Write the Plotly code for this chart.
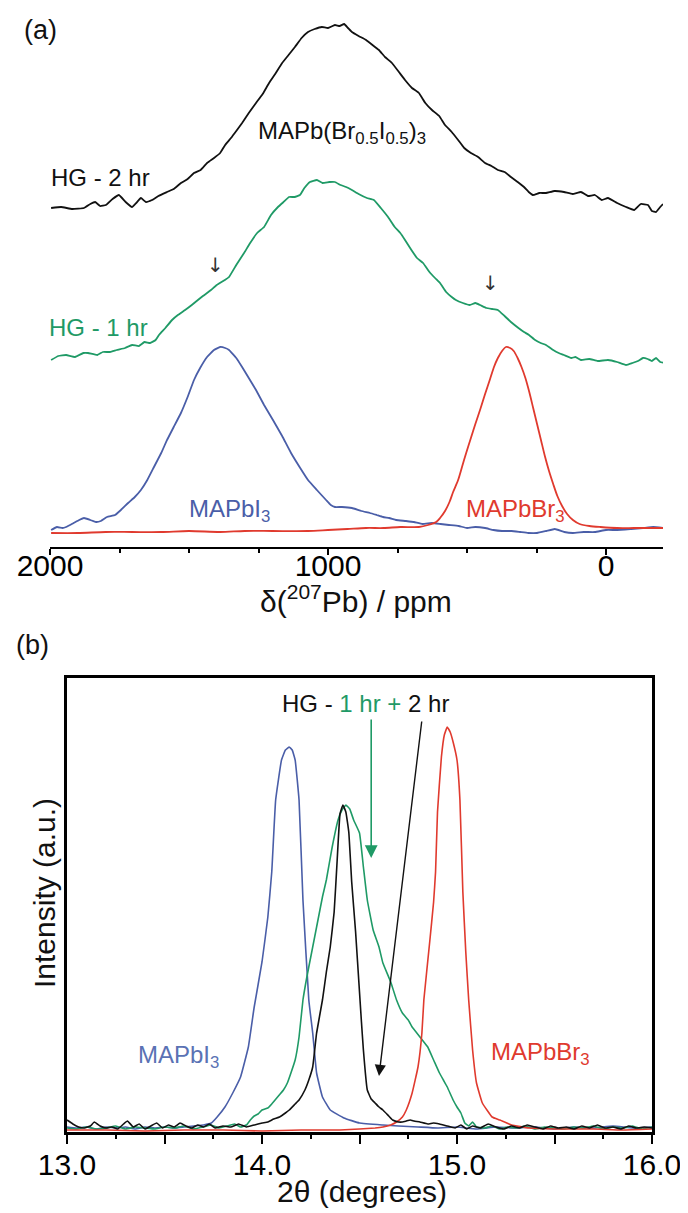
import plotly.graph_objects as go

# ---------------- Panel (a): 207Pb NMR spectra (ppm, intensity above own baseline) ----------------
NMR_HG_2HR = [(1996,0),(1960,1),(1920,-1),(1878,0),(1855,4),(1838,6),(1820,2),(1799,3),(1775,9),(1752,13),(1728,6),(1705,1),(1690,5),(1673,10),(1655,6),(1633,8),(1610,12),(1579,16),(1555,19),(1529,25),(1505,29),(1482,35),(1458,38),(1435,45),(1410,50),(1388,55),(1370,63),(1349,70),(1330,77),(1309,85),(1285,95),(1259,105),(1235,114),(1212,125),(1190,134),(1165,145),(1142,153),(1119,161),(1095,170),(1072,176),(1048,179),(1022,181),(1000,180),(975,183),(958,182),(942,184),(928,180),(914,176),(890,172),(863,168),(840,163),(817,158),(795,151),(770,145),(745,136),(723,128),(698,120),(673,115),(650,105),(626,98),(600,92),(579,83),(555,76),(532,68),(510,60),(486,55),(460,51),(435,45),(412,42),(389,38),(365,36),(342,31),(318,26),(295,21),(278,16),(263,13),(240,15),(216,15),(185,17),(151,16),(120,14),(90,16),(65,12),(40,13),(15,8),(-7,10),(-40,5),(-72,1),(-101,-2),(-125,4),(-151,3),(-165,-3),(-180,-4),(-195,1),(-205,4)]

NMR_HG_1HR = [(1996,0),(1970,4),(1942,5),(1910,3),(1880,7),(1863,7),(1830,5),(1810,8),(1784,8),(1760,10),(1730,12),(1705,15),(1680,14),(1660,18),(1640,17),(1620,20),(1608,25),(1585,32),(1561,40),(1540,45),(1514,50),(1490,55),(1468,60),(1450,64),(1435,67),(1421,70),(1400,75),(1371,80),(1356,83),(1330,95),(1302,107),(1280,117),(1255,127),(1230,133),(1205,145),(1180,153),(1160,158),(1140,163),(1120,163),(1101,165),(1085,172),(1065,178),(1040,180),(1020,177),(995,178),(975,178),(955,175),(935,173),(914,170),(890,166),(860,162),(835,160),(810,152),(784,143),(760,133),(740,127),(723,120),(700,110),(680,102),(658,97),(635,88),(615,82),(597,77),(575,68),(555,63),(540,60),(515,57),(490,55),(470,57),(453,55),(430,52),(410,51),(389,50),(365,44),(342,38),(315,32),(295,28),(277,25),(255,20),(235,17),(216,15),(190,10),(170,7),(151,5),(125,2),(110,3),(90,0),(60,1),(30,-1),(-7,0),(-40,-2),(-72,-5),(-95,-3),(-115,-1),(-133,2),(-150,1),(-165,-1),(-180,2),(-195,-2),(-212,-3)]

NMR_MAPBI3 = [(1996,0),(1975,3),(1955,2),(1942,3),(1915,7),(1895,10),(1878,12),(1855,10),(1835,8),(1817,9),(1795,13),(1766,15),(1745,20),(1719,27),(1695,33),(1673,40),(1650,50),(1626,63),(1600,77),(1579,90),(1555,103),(1529,117),(1505,133),(1482,150),(1460,162),(1435,173),(1410,180),(1388,183),(1370,182),(1356,180),(1330,172),(1309,163),(1285,152),(1259,140),(1230,125),(1198,110),(1165,94),(1133,77),(1100,62),(1072,50),(1040,40),(1007,30),(990,25),(975,23),(950,23),(914,22),(880,19),(849,17),(825,15),(802,13),(780,12),(755,10),(720,9),(691,8),(660,6),(626,7),(595,6),(565,5),(530,4),(500,2),(470,3),(435,2),(405,0),(374,-1),(340,-1),(309,-2),(280,-3),(248,-3),(215,-1),(184,1),(150,-2),(119,-3),(80,-2),(40,-2),(0,0),(-40,0),(-90,1),(-133,2),(-170,3),(-212,2)]

NMR_MAPBBR3 = [(1996,-3),(1900,-3),(1800,-2),(1705,-2),(1600,-2),(1500,-1),(1388,-2),(1300,-1),(1200,-1),(1072,-1),(1000,0),(930,1),(863,2),(800,2),(740,3),(673,3),(640,5),(611,8),(597,12),(579,19),(563,28),(550,38),(532,50),(518,63),(503,77),(486,92),(470,106),(452,121),(435,136),(417,151),(403,163),(389,172),(374,179),(360,183),(345,182),(332,179),(318,172),(304,163),(290,152),(276,138),(262,122),(248,106),(234,90),(220,74),(205,59),(190,46),(175,34),(158,24),(140,16),(119,10),(95,6),(60,4),(20,3),(-40,2),(-100,2),(-160,2),(-212,2)]

NMR_OFFSETS = {"HG - 2 hr": 339, "HG - 1 hr": 187, "MAPbI3": 17, "MAPbBr3": 17}
NMR_TICKS = [2000, 1000, 0]
NMR_TICKTEXT = ["2000", "1000", "0"]

# ---------------- Panel (b): XRD (2theta, intensity) ----------------
XRD_MAPBI3 = [(13.00,5),(13.05,4),(13.10,5),(13.15,3),(13.20,5),(13.25,4),(13.30,5),(13.35,3),(13.40,5),(13.45,4),(13.50,5),(13.55,4),(13.60,5),(13.65,6),(13.70,7),(13.74,9),(13.77,15),(13.81,25),(13.85,39),(13.89,55),(13.93,85),(13.96,125),(14.00,170),(14.03,215),(14.05,260),(14.07,332),(14.10,372),(14.12,382),(14.14,385),(14.155,382),(14.17,372),(14.19,332),(14.21,232),(14.24,132),(14.26,99),(14.28,59),(14.31,35),(14.35,22),(14.42,14),(14.50,9),(14.62,7),(14.70,6),(14.80,5),(14.90,4),(15.00,5),(15.10,3),(15.20,5),(15.30,4),(15.40,5),(15.50,3),(15.60,5),(15.70,4),(15.80,6),(15.90,4),(16.00,5)]

XRD_HG_1HR = [(13.00,4),(13.05,3),(13.10,5),(13.15,3),(13.20,4),(13.25,6),(13.30,3),(13.35,5),(13.40,4),(13.45,3),(13.50,5),(13.55,4),(13.60,6),(13.65,3),(13.70,5),(13.74,7),(13.78,4),(13.82,6),(13.86,8),(13.89,5),(13.92,7),(13.94,12),(13.96,16),(13.98,18),(14.00,22),(14.03,24),(14.05,28),(14.08,35),(14.11,42),(14.13,49),(14.15,60),(14.17,72),(14.19,95),(14.21,132),(14.23,155),(14.25,175),(14.27,195),(14.29,215),(14.31,235),(14.33,252),(14.36,285),(14.39,312),(14.41,322),(14.43,327),(14.45,323),(14.47,312),(14.50,299),(14.52,265),(14.54,232),(14.57,202),(14.60,185),(14.62,169),(14.66,150),(14.69,132),(14.72,119),(14.75,112),(14.77,105),(14.79,100),(14.81,95),(14.83,90),(14.85,85),(14.88,72),(14.91,59),(14.93,52),(14.95,45),(14.98,32),(15.00,25),(15.02,19),(15.04,9),(15.06,6),(15.08,10),(15.10,5),(15.14,4),(15.18,6),(15.22,3),(15.26,5),(15.30,4),(15.35,6),(15.40,3),(15.45,5),(15.50,4),(15.55,3),(15.60,5),(15.65,4),(15.70,6),(15.75,3),(15.80,5),(15.85,4),(15.90,6),(15.95,3),(16.00,5)]

XRD_MAPBBR3 = [(13.00,2),(13.20,2),(13.40,1),(13.60,2),(13.80,2),(14.00,1),(14.20,2),(14.40,2),(14.50,3),(14.58,4),(14.62,5),(14.66,7),(14.69,10),(14.72,15),(14.74,22),(14.77,39),(14.80,65),(14.82,99),(14.83,132),(14.86,190),(14.88,230),(14.89,260),(14.90,320),(14.92,375),(14.935,397),(14.95,405),(14.965,400),(14.98,390),(15.00,372),(15.015,332),(15.03,240),(15.045,180),(15.06,132),(15.08,82),(15.10,49),(15.13,29),(15.18,15),(15.22,12),(15.28,7),(15.37,4),(15.50,3),(15.70,3),(15.85,2),(16.00,3)]

XRD_HG_2HR = [(13.00,12),(13.03,8),(13.06,5),(13.09,4),(13.12,6),(13.14,10),(13.17,6),(13.20,4),(13.23,5),(13.26,3),(13.29,8),(13.31,11),(13.34,5),(13.37,8),(13.40,3),(13.43,6),(13.46,9),(13.49,4),(13.52,7),(13.55,5),(13.58,9),(13.61,6),(13.64,4),(13.67,7),(13.70,5),(13.73,8),(13.76,4),(13.80,6),(13.84,5),(13.88,8),(13.92,5),(13.96,7),(14.00,9),(14.03,10),(14.06,13),(14.09,15),(14.12,19),(14.14,22),(14.17,28),(14.19,32),(14.22,42),(14.24,52),(14.26,65),(14.28,99),(14.31,132),(14.33,160),(14.35,185),(14.37,220),(14.385,270),(14.40,318),(14.415,327),(14.43,320),(14.445,300),(14.46,250),(14.48,200),(14.50,140),(14.51,110),(14.52,82),(14.54,42),(14.56,33),(14.58,29),(14.60,25),(14.62,22),(14.65,16),(14.67,12),(14.70,10),(14.72,10),(14.74,11),(14.76,12),(14.78,11),(14.81,10),(14.85,8),(14.88,9),(14.91,8),(14.95,6),(14.99,4),(15.02,7),(15.05,3),(15.08,6),(15.12,4),(15.16,8),(15.20,5),(15.24,3),(15.28,6),(15.32,4),(15.36,7),(15.40,5),(15.44,3),(15.48,6),(15.52,4),(15.56,5),(15.60,3),(15.64,6),(15.68,4),(15.72,7),(15.76,4),(15.80,5),(15.84,3),(15.88,6),(15.92,4),(15.96,5),(16.00,4)]

XRD_TICKS = [13.0, 13.5, 14.0, 14.5, 15.0, 15.5, 16.0]
XRD_TICKTEXT = ["13.0", "", "14.0", "", "15.0", "", "16.0"]

BLACK = "#111111"
GREEN = "#1f9a66"
BLUE = "#4a5ea8"
BLUE_TXT = "#5a72b4"
RED = "#e03a2e"
FONT = "Liberation Sans, Arial, Helvetica, sans-serif"

# The page body has an 8 px margin; figure is sized so it fits in the 688x1213 window.
PAGE_PAD = 8
W, H = 688 - PAGE_PAD, 1213 - PAGE_PAD


def px_x(p):
    return (p - PAGE_PAD) / W


def px_y(p):
    return 1 - (p - PAGE_PAD) / H


def unzip(pairs, off=0):
    return [p[0] for p in pairs], [p[1] + off for p in pairs]


fig = go.Figure()

# panel (a)
for name, pairs, col, sm in [("HG - 2 hr", NMR_HG_2HR, BLACK, 0.3), ("HG - 1 hr", NMR_HG_1HR, GREEN, 0.3),
                             ("MAPbI3", NMR_MAPBI3, BLUE, 0.3), ("MAPbBr3", NMR_MAPBBR3, RED, 0.8)]:
    x, y = unzip(pairs, NMR_OFFSETS[name])
    fig.add_trace(go.Scatter(x=x, y=y, mode="lines", name=name, xaxis="x", yaxis="y",
                             line=dict(color=col, width=1.8, shape="spline", smoothing=sm),
                             showlegend=False))

# panel (b)
for name, pairs, col in [("MAPbI3", XRD_MAPBI3, BLUE), ("HG - 1 hr", XRD_HG_1HR, GREEN),
                         ("MAPbBr3", XRD_MAPBBR3, RED), ("HG - 2 hr", XRD_HG_2HR, BLACK)]:
    x, y = unzip(pairs)
    fig.add_trace(go.Scatter(x=x, y=y, mode="lines", name=name, xaxis="x2", yaxis="y2",
                             line=dict(color=col, width=1.6, shape="spline", smoothing=0.3),
                             showlegend=False))

TOP_AXIS_PX = 547
fig.update_layout(
    width=W, height=H, margin=dict(l=0, r=0, t=0, b=0, autoexpand=False),
    paper_bgcolor="white", plot_bgcolor="white",
    font=dict(family=FONT, color="black"),
    xaxis=dict(domain=[px_x(50), px_x(663)], range=[2000, -205], anchor="y", automargin=False,
               showline=True, linecolor="black", linewidth=2, showgrid=False, zeroline=False,
               ticks="outside", ticklen=6, tickwidth=1.5, tickcolor="black",
               tickmode="array", tickvals=NMR_TICKS, ticktext=NMR_TICKTEXT,
               tickfont=dict(size=30, family=FONT), ticklabelstandoff=-15,
               minor=dict(tickmode="linear", tick0=0, dtick=250, ticks="outside", ticklen=4,
                          tickwidth=1.5, tickcolor="black", showgrid=False)),
    yaxis=dict(domain=[px_y(TOP_AXIS_PX), 1], range=[0, TOP_AXIS_PX - PAGE_PAD], visible=False,
               anchor="x", automargin=False),
    xaxis2=dict(domain=[px_x(67), px_x(652)], range=[13, 16], anchor="y2", automargin=False,
                showline=True, mirror=True, linecolor="black", linewidth=2.5, showgrid=False, zeroline=False,
                ticks="outside", ticklen=9, tickwidth=1.5, tickcolor="black",
                tickmode="array", tickvals=XRD_TICKS, ticktext=XRD_TICKTEXT,
                tickfont=dict(size=30, family=FONT), ticklabelstandoff=-5,
                minor=dict(tickmode="linear", tick0=13, dtick=0.25, ticks="outside", ticklen=4,
                           tickwidth=1.5, tickcolor="black", showgrid=False)),
    yaxis2=dict(domain=[px_y(1132), px_y(678)], range=[0, 454], anchor="x2", automargin=False,
                showline=True, mirror=True, linecolor="black", linewidth=2.5, showgrid=False, zeroline=False,
                showticklabels=False, ticks=""),
)

C = dict(xanchor="center", yanchor="middle", showarrow=False)
ann = []
# axis titles
ann.append(dict(text="δ(<sup>207</sup>Pb) / ppm", x=px_x(356), y=px_y(599), xref="paper", yref="paper",
                font=dict(size=30, family=FONT, color=BLACK), **C))
ann.append(dict(text="2θ (degrees)", x=px_x(362), y=px_y(1191), xref="paper", yref="paper",
                font=dict(size=30, family=FONT, color=BLACK), **C))
ann.append(dict(text="Intensity (a.u.)", x=px_x(44), y=px_y(893), xref="paper", yref="paper", textangle=-90,
                font=dict(size=30, family=FONT, color=BLACK), **C))
# panel labels
ann.append(dict(text="(a)", x=px_x(40), y=px_y(30), xref="paper", yref="paper",
                font=dict(size=27, family=FONT, color=BLACK), **C))
ann.append(dict(text="(b)", x=px_x(32), y=px_y(645), xref="paper", yref="paper",
                font=dict(size=27, family=FONT, color=BLACK), **C))
# panel (a) labels
ann.append(dict(text="HG - 2 hr", x=1820, y=370, xref="x", yref="y",
                font=dict(size=24, family=FONT, color=BLACK), **C))
ann.append(dict(text="MAPb(Br<sub>0.5</sub>I<sub>0.5</sub>)<sub>3</sub>", x=950, y=415, xref="x", yref="y",
                font=dict(size=24, family=FONT, color=BLACK), **C))
ann.append(dict(text="HG - 1 hr", x=1824, y=220, xref="x", yref="y",
                font=dict(size=24, family=FONT, color=GREEN), **C))
ann.append(dict(text="MAPbI<sub>3</sub>", x=1353, y=37, xref="x", yref="y",
                font=dict(size=24, family=FONT, color=BLUE), **C))
ann.append(dict(text="MAPbBr<sub>3</sub>", x=327, y=37, xref="x", yref="y",
                font=dict(size=24, family=FONT, color=RED), **C))
ann.append(dict(text="↓", x=1403, y=282, xref="x", yref="y",
                font=dict(size=20, family="DejaVu Sans", color="#333333"), **C))
ann.append(dict(text="↓", x=414, y=264, xref="x", yref="y",
                font=dict(size=20, family="DejaVu Sans", color="#333333"), **C))
# panel (b) labels
ann.append(dict(text="HG - <span style='color:%s'>1 hr +</span> 2 hr" % GREEN, x=14.53, y=429,
                xref="x2", yref="y2", font=dict(size=24, family=FONT, color=BLACK), **C))
ann.append(dict(text="MAPbI<sub>3</sub>", x=13.57, y=76, xref="x2", yref="y2",
                font=dict(size=24, family=FONT, color=BLUE_TXT), **C))
ann.append(dict(text="MAPbBr<sub>3</sub>", x=15.43, y=79, xref="x2", yref="y2",
                font=dict(size=24, family=FONT, color=RED), **C))
ann.append(dict(text="", x=14.56, y=274, ax=14.56, ay=414, xref="x2", yref="y2", axref="x2", ayref="y2",
                showarrow=True, arrowhead=2, arrowsize=1.6, arrowwidth=1.6, arrowcolor=GREEN))
ann.append(dict(text="", x=14.60, y=56, ax=14.82, ay=412, xref="x2", yref="y2", axref="x2", ayref="y2",
                showarrow=True, arrowhead=2, arrowsize=1.6, arrowwidth=1.4, arrowcolor=BLACK))
fig.update_layout(annotations=ann)

fig.write_html("out.html")
